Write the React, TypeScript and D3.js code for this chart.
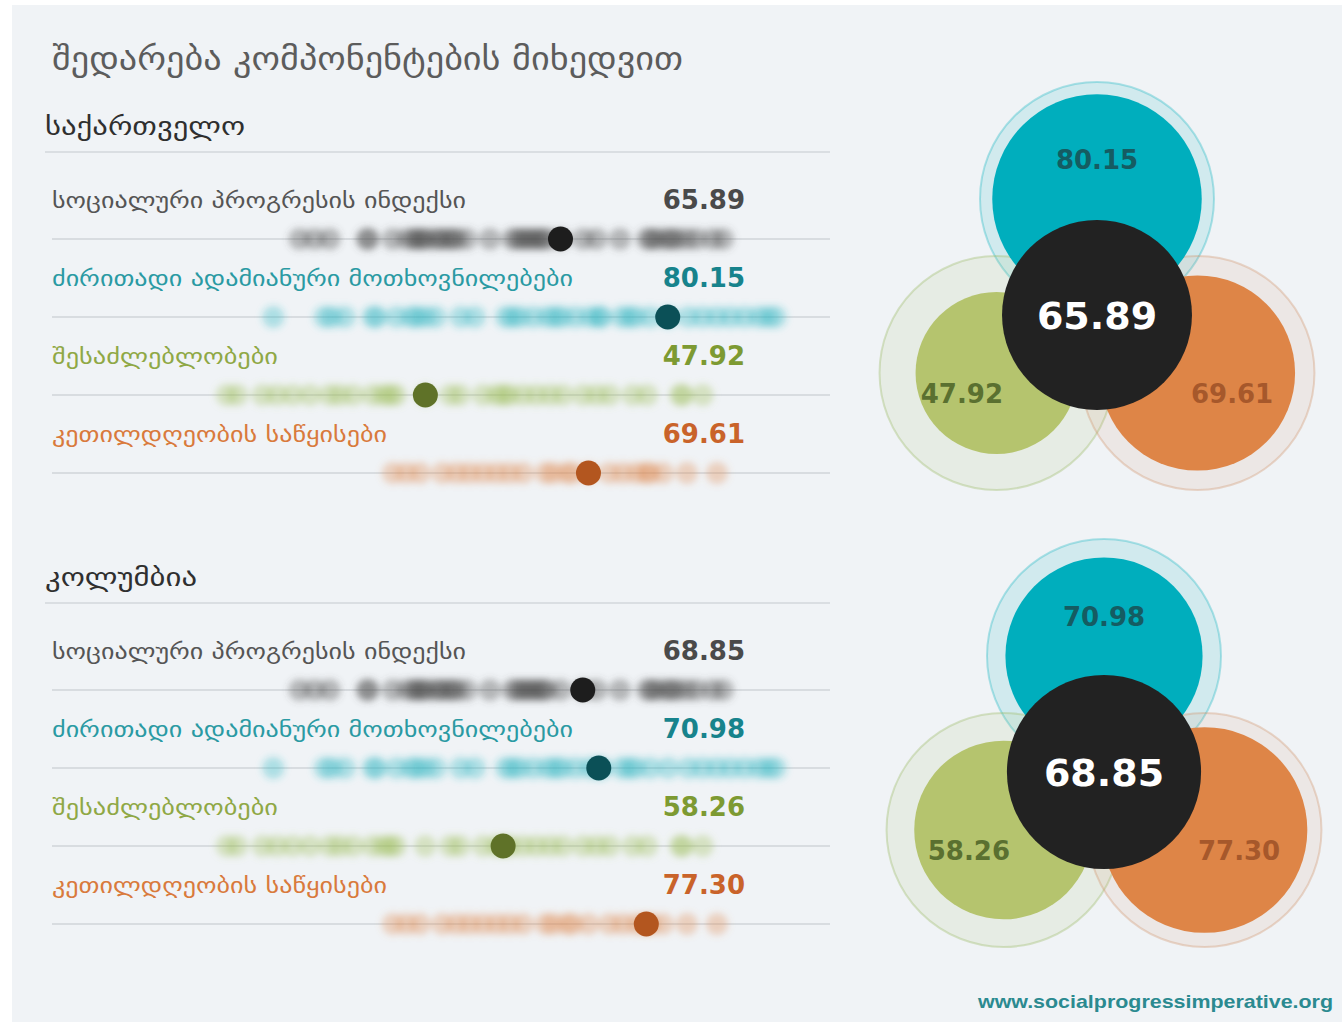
import React from "react";
import * as d3 from "d3";

// ---------- data ----------
const titleText = "შედარება კომპონენტების მიხედვით";
const countries = ["საქართველო", "კოლუმბია"];
const componentNames = [
  "სოციალური პროგრესის ინდექსი",
  "ძირითადი ადამიანური მოთხოვნილებები",
  "შესაძლებლობები",
  "კეთილდღეობის საწყისები",
];
const georgiaScores = [65.89, 80.15, 47.92, 69.61];
const colombiaScores = [68.85, 70.98, 58.26, 77.3];

// other countries' scores (background distribution)
const spiDistribution = [
  31.2, 33.2, 35.2, 40.1, 40.4, 43.6, 45.5, 46.5, 46.8, 47.6, 48.1, 49.4, 49.9,
  50.8, 51.5, 52.1, 53.4, 56.5, 59.5, 60.2, 60.9, 61.5, 62.2, 62.9, 63.5, 64.1,
  65.9, 68.9, 70.7, 73.8, 77.4, 78.0, 78.7, 80.0, 80.6, 81.4, 82.7, 84.0, 86.1,
  87.5,
];
const bhnDistribution = [
  27.7, 34.5, 35.5, 37.2, 40.9, 41.5, 44.1, 46.0, 46.8, 47.9, 49.3, 52.6, 54.5,
  58.6, 59.5, 60.5, 62.3, 64.2, 65.2, 66.1, 67.9, 69.8, 71.0, 71.3, 74.0, 75.0,
  75.9, 77.8, 80.2, 82.9, 84.8, 86.7, 88.5, 90.4, 92.3, 93.5, 94.5,
];
const oppDistribution = [
  21.5, 22.9, 26.3, 28.2, 30.3, 32.6, 35.2, 36.5, 38.3, 40.9, 42.3, 43.2, 44.0,
  47.9, 51.2, 52.5, 55.6, 57.4, 58.3, 59.1, 60.9, 62.7, 64.5, 66.2, 68.9, 70.7,
  72.4, 75.5, 77.4, 81.8, 82.2, 84.8,
];
const fowDistribution = [
  43.6, 45.4, 47.2, 50.2, 52.1, 53.8, 55.6, 57.4, 59.1, 60.9, 63.9, 64.9, 66.7,
  67.5, 69.6, 72.4, 74.2, 76.0, 77.3, 77.8, 79.5, 82.7, 86.7,
];
const distributions = [spiDistribution, bhnDistribution, oppDistribution, fowDistribution];
const footerText = "www.socialprogressimperative.org";

// ---------- styles ----------
const labelColors = ["#555555", "#2a9aa3", "#8fa845", "#d97a3c"];
const valueColors = ["#4a4a4a", "#17838c", "#7d9a32", "#c9632a"];
const blurColors = ["#4f4f4f", "#2fb6c1", "#9dbf5c", "#e08a52"];
const blurOpacity = [0.38, 0.34, 0.34, 0.34];
const dotColors = ["#1d1d1d", "#0b5057", "#5f7228", "#b3561f"];
const circleFill = ["#222222", "#00aebd", "#b5c46e", "#de8547"];
const ringFill = ["none", "rgba(0,174,189,0.13)", "rgba(170,195,120,0.14)", "rgba(210,150,110,0.12)"];
const ringStroke = ["none", "rgba(0,174,189,0.3)", "rgba(160,190,110,0.38)", "rgba(210,150,110,0.35)"];
const circleText = ["#ffffff", "#155c62", "#5a7030", "#a6582b"];
const labelWidths = [414, 521, 226, 335];
const headerWidths = [200, 152];

const W = 1342;
const H = 1022;
const x = d3.scaleLinear().domain([0, 100]).range([65, 817]);
const r = d3.scaleSqrt().domain([0, 100]).range([0, 117]);

const sections = [
  { name: countries[0], scores: georgiaScores, top: 0, cx: 1097, cy: 315, headerW: headerWidths[0] },
  { name: countries[1], scores: colombiaScores, top: 451, cx: 1104, cy: 772, headerW: headerWidths[1] },
];
const rowLineY = [239, 317, 395, 473];
const angles = [0, -90, 150, 30]; // index, basic needs, opportunity, foundations
const geo = "DejaVu Sans, sans-serif";

function Section({ s }: { s: any }) {
  const off = s.top;
  return (
    <g>
      <text x={45} y={135 + off} fontFamily={geo} fontSize={26} fill="#2f2f2f" textLength={s.headerW} lengthAdjust="spacingAndGlyphs">
        {s.name}
      </text>
      <line x1={45} x2={830} y1={152 + off} y2={152 + off} stroke="#d3d7db" strokeWidth={1.5} />
      {componentNames.map((name, i) => {
        const ly = rowLineY[i] + off;
        return (
          <g key={i}>
            <text x={52} y={ly - 31} fontFamily={geo} fontSize={22} fill={labelColors[i]} textLength={labelWidths[i]} lengthAdjust="spacingAndGlyphs">
              {name}
            </text>
            <text x={745} y={ly - 30} fontFamily="DejaVu Sans, sans-serif" fontWeight="bold" fontSize={26} fill={valueColors[i]} textAnchor="end">
              {s.scores[i].toFixed(2)}
            </text>
            <line x1={52} x2={830} y1={ly} y2={ly} stroke="#d0d4d8" strokeWidth={1.5} />
            <g filter="url(#blurDots)">
              {distributions[i].map((v, j) => (
                <circle key={j} cx={x(v)} cy={ly} r={11} fill={blurColors[i]} fillOpacity={blurOpacity[i]} />
              ))}
            </g>
            <circle cx={x(s.scores[i])} cy={ly} r={12.5} fill={dotColors[i]} />
          </g>
        );
      })}
      {/* venn-like circles */}
      {[1, 2, 3].map((i) => {
        const a = (angles[i] * Math.PI) / 180;
        const cx = s.cx + 116 * Math.cos(a);
        const cy = s.cy + 116 * Math.sin(a);
        return (
          <circle key={"o" + i} cx={cx} cy={cy} r={r(100)} fill={ringFill[i]} stroke={ringStroke[i]} strokeWidth={2} />
        );
      })}
      {[1, 2, 3].map((i) => {
        const a = (angles[i] * Math.PI) / 180;
        const cx = s.cx + 116 * Math.cos(a);
        const cy = s.cy + 116 * Math.sin(a);
        return <circle key={"i" + i} cx={cx} cy={cy} r={r(s.scores[i])} fill={circleFill[i]} />;
      })}
      {[1, 2, 3].map((i) => {
        const a = (angles[i] * Math.PI) / 180;
        const tx = s.cx + 156 * Math.cos(a);
        const ty = s.cy + 156 * Math.sin(a) + 10;
        return (
          <text key={"t" + i} x={tx} y={ty} textAnchor="middle" fontFamily="DejaVu Sans, sans-serif" fontWeight="bold" fontSize={26} fill={circleText[i]}>
            {s.scores[i].toFixed(2)}
          </text>
        );
      })}
      <circle cx={s.cx} cy={s.cy} r={r(s.scores[0])} fill={circleFill[0]} />
      <text x={s.cx} y={s.cy + 14} textAnchor="middle" fontFamily="DejaVu Sans, sans-serif" fontWeight="bold" fontSize={38} fill={circleText[0]}>
        {s.scores[0].toFixed(2)}
      </text>
    </g>
  );
}

export default function App() {
  return (
    <svg width={W} height={H} style={{ position: "absolute", left: 0, top: 0, background: "#ffffff" }}>
      <defs>
        <filter id="blurDots" x="-10%" y="-200%" width="120%" height="500%">
          <feGaussianBlur stdDeviation={3.6} />
        </filter>
      </defs>
      <rect x={12} y={5} width={W - 12} height={H - 5} fill="#f0f3f6" />
      <text x={52} y={70} fontFamily={geo} fontSize={33} fill="#5c5c5c" textLength={631} lengthAdjust="spacingAndGlyphs">
        {titleText}
      </text>
      {sections.map((s, k) => (
        <Section key={k} s={s} />
      ))}
      <text x={978} y={1008} fontFamily="Liberation Sans, Arial, sans-serif" fontWeight="bold" fontSize={19} fill="#2b8a90" textLength={355} lengthAdjust="spacingAndGlyphs">
        {footerText}
      </text>
    </svg>
  );
}
